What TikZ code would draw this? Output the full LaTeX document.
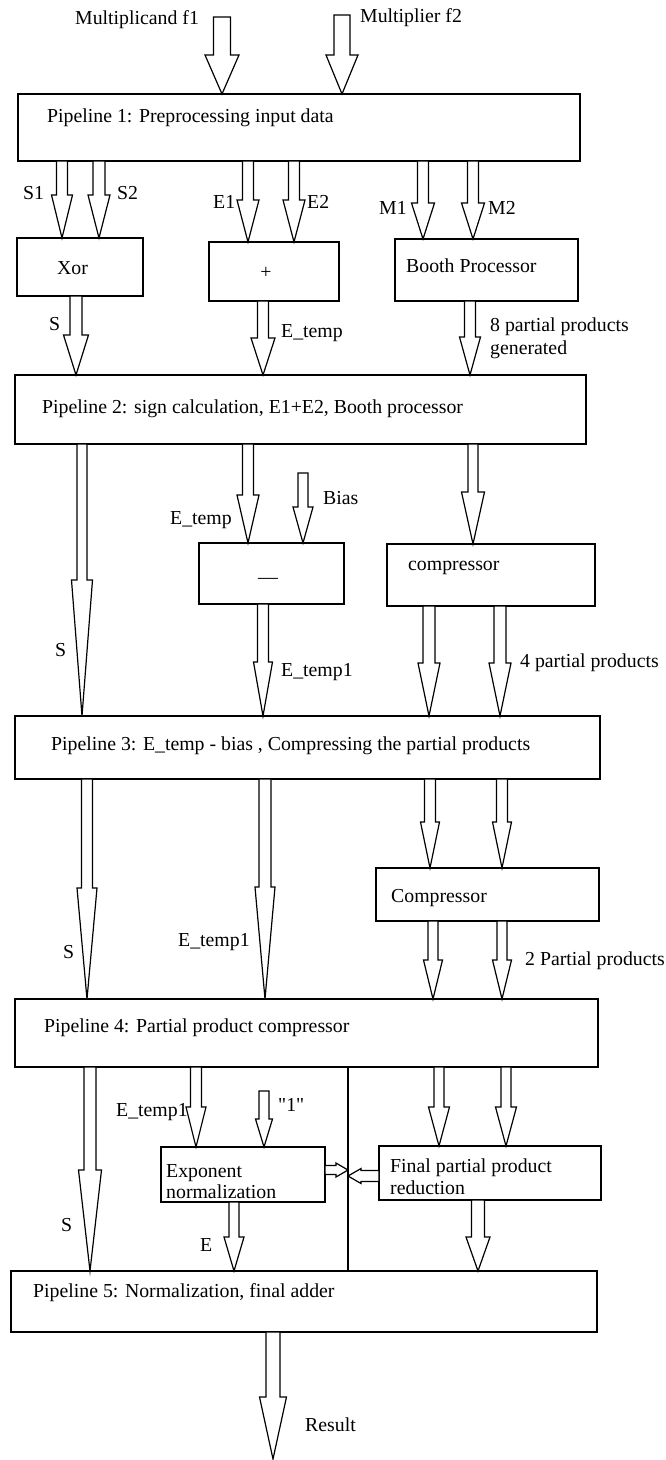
\documentclass[tikz,border=0pt]{standalone}
\usepackage{fontspec}
\setmainfont{Liberation Serif}
\usetikzlibrary{calc}
\tikzset{
  box/.style={draw, line width=1.4pt, rectangle, anchor=north west, inner sep=0pt, outer sep=0pt},
  txt/.style={anchor=west, inner sep=0pt},
  blk/.style={draw, line width=1.2pt, fill=white, line join=miter},
}
% vertical block arrow: #1 x, #2 start, #3 end, #4 half shaft, #5 half head, #6 head length
\newcommand{\varrow}[6]{\draw[blk] let \p1=(#2 -| #1,0), \p2=(#3 -| #1,0) in
  (\x1-#4,\y1) -- (\x1-#4,\y2+#6) -- (\x1-#5,\y2+#6) -- (\x1,\y2) -- (\x1+#5,\y2+#6) -- (\x1+#4,\y2+#6) -- (\x1+#4,\y1) -- cycle;}
% rightward block arrow: #1 y, #2 start, #3 end, #4 half shaft, #5 half head, #6 head length
\newcommand{\rarrow}[6]{\draw[blk] let \p1=(#2 |- 0,#1), \p2=(#3 |- 0,#1) in
  (\x1,\y1+#4) -- (\x2-#6,\y1+#4) -- (\x2-#6,\y1+#5) -- (\x2,\y1) -- (\x2-#6,\y1-#5) -- (\x2-#6,\y1-#4) -- (\x1,\y1-#4) -- cycle;}
% leftward block arrow
\newcommand{\larrow}[6]{\draw[blk] let \p1=(#2 |- 0,#1), \p2=(#3 |- 0,#1) in
  (\x1,\y1+#4) -- (\x2+#6,\y1+#4) -- (\x2+#6,\y1+#5) -- (\x2,\y1) -- (\x2+#6,\y1-#5) -- (\x2+#6,\y1-#4) -- (\x1,\y1-#4) -- cycle;}
\begin{document}
\begin{tikzpicture}[x=1pt, y=-1pt, font=\fontsize{19.8pt}{23pt}\selectfont]
\useasboundingbox (0,0) rectangle (665,1460);

% boxes
\node[box, minimum width=562pt, minimum height=67pt] (p1) at (18,94) {};
\node[box, minimum width=126pt, minimum height=58pt] (xor) at (17,238) {};
\node[box, minimum width=130pt, minimum height=59pt] (plus) at (209,242) {};
\node[box, minimum width=183pt, minimum height=62pt] (booth) at (395,239) {};
\node[box, minimum width=571pt, minimum height=69pt] (p2) at (15,375) {};
\node[box, minimum width=145pt, minimum height=61pt] (minus) at (199,543) {};
\node[box, minimum width=208pt, minimum height=62pt] (comp1) at (387,544) {};
\node[box, minimum width=585pt, minimum height=63pt] (p3) at (15,716) {};
\node[box, minimum width=223pt, minimum height=53pt] (comp2) at (376,868) {};
\node[box, minimum width=583pt, minimum height=68pt] (p4) at (15,999) {};
\node[box, minimum width=164pt, minimum height=55pt] (expn) at (161,1147) {};
\node[box, minimum width=222pt, minimum height=54pt] (fin) at (379,1146) {};
\node[box, minimum width=586pt, minimum height=61pt] (p5) at (11,1271) {};

% texts
\node[txt] (tf1) at (75,20) {Multiplicand f1};
\node[txt] (tf2) at (360,18) {Multiplier f2};
\node[txt] (tp1) at (47,118) {Pipeline 1: Preprocessing input data};
\node[txt] (ts1) at (23,193) {S1};
\node[txt] (ts2) at (117,193) {S2};
\node[txt] (te1) at (213,202) {E1};
\node[txt] (te2) at (307,202) {E2};
\node[txt] (tm1) at (379,208) {M1};
\node[txt] (tm2) at (488,208) {M2};
\node[txt] (txor) at (57,268) {Xor};
\node[inner sep=0pt] (tplus) at (266,273) {+};
\node[txt] (tbooth) at (406,266) {Booth Processor};
\node[txt] (tsa) at (49,324) {S};
\node[txt] (teta) at (281,333) {E\_temp};
\node[txt, align=left] (t8pp) at (490,338) {8 partial products\\generated};
\node[txt] (tp2) at (42,409) {Pipeline 2: sign calculation, E1+E2, Booth processor};
\node[txt] (tetb) at (170,520) {E\_temp};
\node[txt] (tbias) at (323,498) {Bias};
\node[anchor=base, inner sep=0pt] (tminus) at (268,583) {—};
\node[txt] (tcomp1) at (408,568) {compressor};
\node[txt] (tsb) at (55,650) {S};
\node[txt] (tet1a) at (281,672) {E\_temp1};
\node[txt] (t4pp) at (520,663) {4 partial products};
\node[txt] (tp3) at (51,746) {Pipeline 3: E\_temp - bias , Compressing the partial products};
\node[txt] (tcomp2) at (391,898) {Compressor};
\node[txt] (tsc) at (63,952) {S};
\node[txt] (tet1b) at (178,942) {E\_temp1};
\node[txt] (t2pp) at (525,961) {2 Partial products};
\node[txt] (tp4) at (44,1028) {Pipeline 4: Partial product compressor};
\node[txt] (tet1c) at (116,1112) {E\_temp1};
\node[txt] (tone) at (278,1105) {\textquotedbl 1\textquotedbl};
\node[txt, align=left, font=\fontsize{19.8pt}{21pt}\selectfont] (texpn) at (166,1182) {Exponent\\normalization};
\node[txt, align=left, font=\fontsize{19.8pt}{22pt}\selectfont] (tfin) at (390,1177) {Final partial product\\reduction};
\node[txt] (tsd) at (61,1225) {S};
\node[txt] (te) at (200,1245) {E};
\node[txt] (tp5) at (33,1293) {Pipeline 5: Normalization, final adder};
\node[txt] (tres) at (305,1425) {Result};

% free ends
\coordinate (f1s) at (222,17);
\coordinate (f2s) at (342,15);
\coordinate (biass) at (303,473);
\coordinate (ones) at (264,1091);
\coordinate (rese) at (273,1459);
\coordinate (vl1) at (p4.south -| 348,0);
\coordinate (vl2) at (p5.north -| 348,0);

% block arrows
\varrow{222}{f1s}{p1.north}{8.5pt}{17pt}{39pt}
\varrow{342}{f2s}{p1.north}{8pt}{16pt}{39pt}
\varrow{62}{p1.south}{xor.north}{5.5pt}{10.5pt}{43pt}
\varrow{99}{p1.south}{xor.north}{6pt}{11pt}{43pt}
\varrow{248}{p1.south}{plus.north}{5.5pt}{11pt}{42pt}
\varrow{294}{p1.south}{plus.north}{5.5pt}{11pt}{42pt}
\varrow{423}{p1.south}{booth.north}{5.5pt}{11.5pt}{36pt}
\varrow{473}{p1.south}{booth.north}{5.5pt}{11.5pt}{36pt}
\varrow{76}{xor.south}{p2.north}{6pt}{12.5pt}{40pt}
\varrow{263}{plus.south}{p2.north}{5.5pt}{12pt}{37pt}
\varrow{470}{booth.south}{p2.north}{5.5pt}{10.5pt}{38pt}
\varrow{82}{p2.south}{p3.north}{5pt}{10.5pt}{136pt}
\varrow{248}{p2.south}{minus.north}{5.5pt}{11pt}{48pt}
\varrow{303}{biass}{minus.north}{5pt}{10pt}{36pt}
\varrow{473}{p2.south}{comp1.north}{5pt}{11.5pt}{52pt}
\varrow{263}{minus.south}{p3.north}{5.5pt}{9.5pt}{54pt}
\varrow{429}{comp1.south}{p3.north}{6pt}{11pt}{53pt}
\varrow{500}{comp1.south}{p3.north}{6pt}{11pt}{53pt}
\varrow{87}{p3.south}{p4.north}{5.5pt}{10pt}{111pt}
\varrow{265}{p3.south}{p4.north}{6pt}{10pt}{112pt}
\varrow{430}{p3.south}{comp2.north}{5.5pt}{9.5pt}{46pt}
\varrow{502}{p3.south}{comp2.north}{5.5pt}{9.5pt}{46pt}
\varrow{433}{comp2.south}{p4.north}{5pt}{9.5pt}{39pt}
\varrow{502}{comp2.south}{p4.north}{5pt}{9.5pt}{39pt}
\varrow{90}{p4.south}{p5.north}{6pt}{11.5pt}{101pt}
\varrow{196}{p4.south}{expn.north}{5.5pt}{10pt}{40pt}
\varrow{264}{ones}{expn.north}{5pt}{8.5pt}{28pt}
\varrow{439}{p4.south}{fin.north}{5pt}{10.5pt}{39pt}
\varrow{506}{p4.south}{fin.north}{5pt}{10.5pt}{39pt}
\varrow{234}{expn.south}{p5.north}{5pt}{10pt}{34pt}
\varrow{478}{fin.south}{p5.north}{6.5pt}{12pt}{34pt}
\varrow{273}{p5.south}{rese}{7pt}{13.5pt}{62pt}

% divider line and side arrows
\draw[line width=2.8pt] (vl1) -- (vl2);
\rarrow{1170}{expn.east}{vl1}{4.5pt}{7pt}{12pt}
\larrow{1176}{fin.west}{vl1}{5.5pt}{7.5pt}{13pt}
\end{tikzpicture}
\end{document}
